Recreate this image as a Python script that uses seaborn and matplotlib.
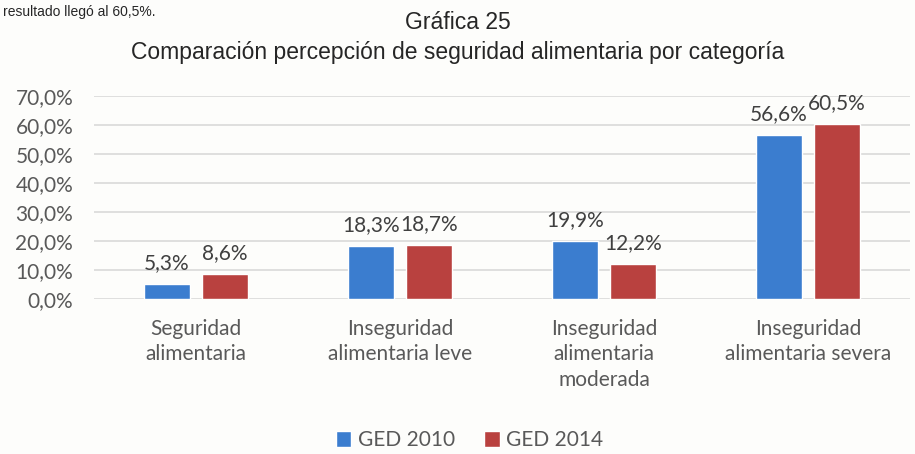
import pandas as pd
import seaborn as sns
import matplotlib.pyplot as plt
from matplotlib.ticker import FuncFormatter

categorias = ['Seguridad\nalimentaria', 'Inseguridad\nalimentaria leve',
              'Inseguridad\nalimentaria\nmoderada', 'Inseguridad\nalimentaria severa']
ged_2010 = [5.3, 18.3, 19.9, 56.6]
ged_2014 = [8.6, 18.7, 12.2, 60.5]
series = ['GED 2010', 'GED 2014']
colores = ['#3b7dcf', '#b9413f']

df = pd.DataFrame({
    'categoria': categorias * 2,
    'valor': ged_2010 + ged_2014,
    'serie': [series[0]] * 4 + [series[1]] * 4,
})

sns.set_style('white')
plt.rcParams['font.family'] = ['Lato', 'DejaVu Sans']

fig = plt.figure(figsize=(9.15, 4.54), dpi=100, facecolor='#fdfdfb')
ax = fig.add_axes([0.1027, 0.341, 0.892, 0.447])
ax.set_facecolor('#fdfdfb')

sns.barplot(data=df, x='categoria', y='valor', hue='serie', palette=colores,
            width=0.57, gap=0.2, ax=ax, saturation=1)

for cont in ax.containers:
    ax.bar_label(cont, labels=[f'{v:.1f}%'.replace('.', ',') for v in cont.datavalues],
                 padding=8, fontsize=15, color='#404040')

ax.set_ylim(0, 70)
ax.set_xlim(-0.5, 3.5)
ax.set_yticks(range(0, 71, 10))
ax.yaxis.set_major_formatter(FuncFormatter(lambda v, p: f'{v:.1f}%'.replace('.', ',')))
ax.grid(axis='y', color='#d9d9d9', linewidth=1.2)
ax.set_axisbelow(True)
for s in ax.spines.values():
    s.set_visible(False)
ax.tick_params(axis='both', length=0, labelsize=15, labelcolor='#595959')
ax.tick_params(axis='x', pad=14)
ax.tick_params(axis='y', pad=15)
ax.set_xlabel('')
ax.set_ylabel('')
for t in ax.get_xticklabels():
    t.set_linespacing(1.35)

ax.legend(loc='center', bbox_to_anchor=(0.46, -0.695), ncol=2, frameon=False,
          fontsize=15, labelcolor='#595959', handlelength=0.75, handleheight=0.75,
          handletextpad=0.3, columnspacing=1.4)

fig.text(0.5, 0.95, 'Gráfica 25', ha='center', va='center', fontsize=16.5,
         family=['Liberation Sans'])
fig.text(0.5, 0.885, 'Comparación percepción de seguridad alimentaria por categoría',
         ha='center', va='center', fontsize=16.5, family=['Liberation Sans'])
fig.text(0.003, 0.99, 'resultado llegó al 60,5%.', ha='left', va='top',
         fontsize=10, family=['Liberation Sans'])

fig.savefig('out.png', dpi=100, facecolor=fig.get_facecolor())
